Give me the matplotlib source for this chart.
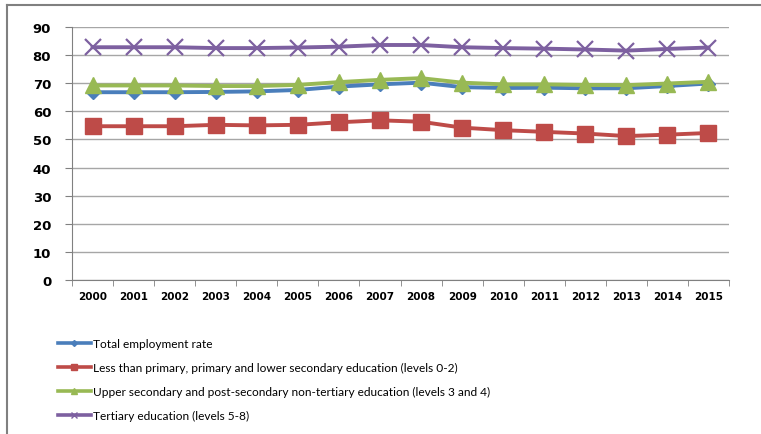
import matplotlib
matplotlib.use("Agg")
import matplotlib.pyplot as plt
from matplotlib.lines import Line2D

years = ["2000", "2001", "2002", "2003", "2004", "2005", "2006", "2007",
         "2008", "2009", "2010", "2011", "2012", "2013", "2014", "2015"]
total = [66.8, 66.8, 66.8, 66.9, 67.1, 67.6, 68.8, 69.6, 70.2, 68.6, 68.3, 68.4, 68.2, 68.2, 69.0, 69.9]
low = [54.7, 54.7, 54.7, 55.2, 55.0, 55.2, 56.1, 56.8, 56.3, 54.2, 53.3, 52.7, 52.1, 51.2, 51.7, 52.3]
upper = [69.2, 69.2, 69.2, 69.0, 69.0, 69.4, 70.4, 71.2, 71.8, 70.2, 69.6, 69.6, 69.4, 69.3, 69.9, 70.5]
tertiary = [82.8, 82.8, 82.8, 82.5, 82.5, 82.7, 83.0, 83.6, 83.6, 82.8, 82.5, 82.3, 82.0, 81.6, 82.2, 82.7]
labels = ["Total employment rate",
          "Less than primary, primary and lower secondary education (levels 0-2)",
          "Upper secondary and post-secondary non-tertiary education (levels 3 and 4)",
          "Tertiary education (levels 5-8)"]
yticks = [0, 10, 20, 30, 40, 50, 60, 70, 80, 90]

legend_family = "Lato"
legend_size = 8.6

colors = ["#4A7EBB", "#BE4B48", "#98B954", "#7D60A0"]
W, H = 761, 435
fig = plt.figure(figsize=(W / 100, H / 100), dpi=100)
ax = fig.add_axes([72 / W, 1 - 281 / H, (729 - 72) / W, (281 - 28) / H])

x = list(range(len(years)))
ax.plot(x, total, color=colors[0], lw=2.8, marker="D", ms=7, zorder=3)
ax.plot(x, low, color=colors[1], lw=2.8, marker="s", ms=12, zorder=3)
ax.plot(x, upper, color=colors[2], lw=2.8, marker="^", ms=11, zorder=4)
ax.plot(x, tertiary, color=colors[3], lw=2.8, marker="x", ms=12, mew=1.6, zorder=3)

ax.set_xlim(-0.5, len(years) - 0.5)
ax.set_ylim(0, 90)
ax.set_yticks(yticks)
ax.set_yticklabels([str(v) for v in yticks], fontsize=9.5, fontweight="bold", family="DejaVu Sans")
ax.set_xticks(x)
ax.set_xticklabels(years, fontsize=7.5, fontweight="bold", family="DejaVu Sans")
ax.set_xticks([i - 0.5 for i in range(len(years) + 1)], minor=True)
ax.tick_params(axis="x", which="major", length=0, pad=8)
ax.tick_params(axis="x", which="minor", length=4, color="#808080")
ax.tick_params(axis="y", length=5, color="#808080", pad=10)
ax.grid(axis="y", color="#A6A6A6", lw=1)
ax.set_axisbelow(True)
for s in ["top", "right"]:
    ax.spines[s].set_visible(False)
for s in ["left", "bottom"]:
    ax.spines[s].set_color("#808080")

handles = [
    Line2D([], [], color=colors[0], lw=2.6, marker="D", ms=3),
    Line2D([], [], color=colors[1], lw=2.6, marker="s", ms=5),
    Line2D([], [], color=colors[2], lw=2.6, marker="^", ms=4),
    Line2D([], [], color=colors[3], lw=2.6, marker="x", ms=5, mew=1),
]
leg = fig.legend(handles, labels, loc="upper left", bbox_to_anchor=(47 / W, 1 - 328 / H),
                 frameon=False, handlelength=33 / (legend_size * 100 / 72), handletextpad=0.15,
                 labelspacing=1.1, prop={"family": legend_family, "size": legend_size})

fig.add_artist(Line2D([7 / W, 1], [1 - 6 / H, 1 - 6 / H], transform=fig.transFigure,
                      color="#808080", lw=1.5))
fig.add_artist(Line2D([7 / W, 7 / W], [0, 1 - 6 / H], transform=fig.transFigure,
                      color="#808080", lw=1.5))

fig.savefig("out.png", dpi=100)
